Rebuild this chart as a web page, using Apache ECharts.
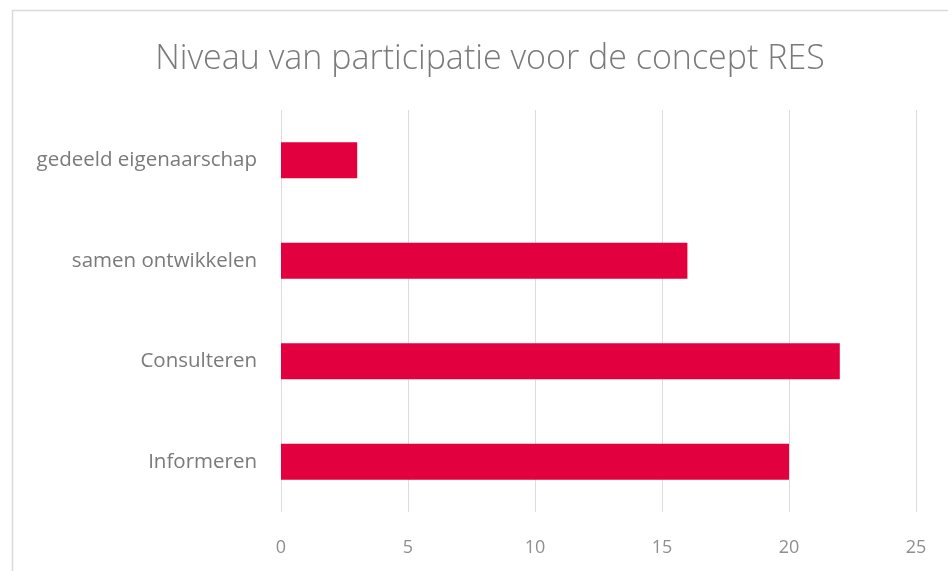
<!DOCTYPE html>
<html>
<head>
<meta charset="utf-8">
<script src="https://cdn.jsdelivr.net/npm/echarts@6/dist/echarts.min.js"></script>
<style>
  html, body { margin: 0; padding: 0; background: #fff; }
  #main { width: 948px; height: 571px; }
</style>
</head>
<body>
<div id="main"></div>
<script>
var myChart = echarts.init(document.getElementById('main'));

// categories from bottom to top (category axis on y starts at the bottom)
const categories = ['Informeren', 'Consulteren', 'samen ontwikkelen', 'gedeeld eigenaarschap'];
const values = [20, 22, 16, 3];
const xTicks = [0, 5, 10, 15, 20, 25];

const option = {
  backgroundColor: '#fff',
  textStyle: { fontFamily: 'Open Sans' },
  title: {
    text: 'Niveau van participatie voor de concept RES',
    left: 485,
    textAlign: 'center',
    top: 37,
    textStyle: {
      fontFamily: 'Open Sans',
      fontWeight: 300,
      fontSize: 34,
      color: '#7a7a7a'
    }
  },
  graphic: [
    {
      type: 'rect',
      shape: { x: 12.5, y: 10.5, width: 960, height: 600 },
      style: { fill: 'none', stroke: '#dadada', lineWidth: 1.5 },
      silent: true
    }
  ],
  grid: {
    left: 281,
    right: 32,
    top: 110,
    bottom: 59
  },
  xAxis: {
    type: 'value',
    min: xTicks[0],
    max: xTicks[xTicks.length - 1],
    interval: 5,
    axisLine: { show: false },
    axisTick: { show: false },
    axisLabel: {
      margin: 27,
      fontSize: 18,
      color: '#8f8f8f',
      fontFamily: 'Open Sans'
    },
    splitLine: { lineStyle: { color: '#dcdcdc', width: 1 } }
  },
  yAxis: {
    type: 'category',
    data: categories,
    axisLine: { show: false },
    axisTick: { show: false },
    axisLabel: {
      margin: 24,
      fontSize: 20.5,
      color: '#7a7a7a',
      fontFamily: 'Open Sans'
    }
  },
  series: [
    {
      type: 'bar',
      data: values,
      barWidth: 36,
      itemStyle: { color: '#e2003f' }
    }
  ]
};

myChart.setOption(option);
</script>
</body>
</html>
